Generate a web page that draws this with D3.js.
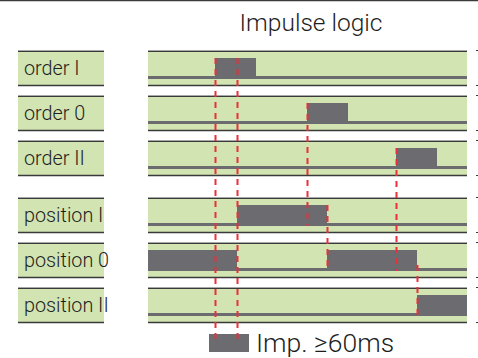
<!DOCTYPE html>
<html><head><meta charset="utf-8">
<script src="https://cdn.jsdelivr.net/npm/d3@7"></script>
<style>
html,body{margin:0;padding:0;background:#fff;}
svg{display:block;}
text{font-family:Roboto,"Liberation Sans",sans-serif;font-weight:300;fill:#1e1e1e;}
</style></head>
<body>
<script>
// ---- data ----
const title = "Impulse logic";
const signals = ["order I", "order 0", "order II", "position I", "position 0", "position II"];
const groups  = ["order", "order", "order", "position", "position", "position"];
// high-level intervals per signal (time units)
const highIntervals = [
  [[6.7, 10.8]],
  [[15.9, 20.0]],
  [[24.8, 28.9]],
  [[8.9, 17.9]],
  [[0, 8.9], [17.9, 26.9]],
  [[26.9, 32]]
];
// dashed marker lines: time, from signal (level), to signal (level) ; "legend" = down to legend
const markerTimes  = [6.7, 8.9, 15.9, 17.9, 24.8, 26.9];
const markerFrom   = ["order I:high", "order I:high", "order 0:high", "position I:high", "order II:high", "position 0:mid"];
const markerTo     = ["legend", "legend", "position I:low", "position 0:low", "position 0:low", "position II:low"];
const timeDomain = [0, 32];
const legendLabel = "Imp. \u226560ms";

// ---- layout ----
const W = 478, H = 358;
const svg = d3.select("body").append("svg").attr("width", W).attr("height", H);

const x = d3.scaleLinear().domain(timeDomain).range([148, 468]);
const rowH = 36, rowStep = 45, groupGap = 12, top0 = 50;
const rowTop = i => top0 + i * rowStep + (groups[i] === "position" ? groupGap : 0);
const levelY = {high: 8, mid: 23, low: 26, lowEnd: 29};

const green = "#d1e4b2", grey = "#6b6b70", dark = "#3a3a3a", red = "#ec2f3a";

// top rule
svg.append("line").attr("x1", 0).attr("x2", W).attr("y1", 0.5).attr("y2", 0.5)
  .attr("stroke", dark).attr("stroke-width", 1.5);

// title
svg.append("text").attr("x", 311).attr("y", 31).attr("text-anchor", "middle")
  .attr("font-size", 24.5).text(title);

const rows = svg.selectAll("g.row").data(signals).join("g").attr("class", "row")
  .attr("transform", (d, i) => `translate(0,${rowTop(i)})`);

function panel(g, x0, x1) {
  g.append("rect").attr("x", x0).attr("y", 0).attr("width", x1 - x0).attr("height", rowH).attr("fill", green);
  g.append("line").attr("x1", x0).attr("x2", x1).attr("y1", 0.5).attr("y2", 0.5).attr("stroke", "#a8a8a8").attr("stroke-width", 1);
  g.append("line").attr("x1", x0).attr("x2", x1).attr("y1", 1.5).attr("y2", 1.5).attr("stroke", dark).attr("stroke-width", 1);
  g.append("line").attr("x1", x0).attr("x2", x1).attr("y1", rowH - 0.5).attr("y2", rowH - 0.5).attr("stroke", dark).attr("stroke-width", 1.5);
}

rows.each(function(d, i) {
  const g = d3.select(this);
  // label box
  panel(g, 18, 104);
  // timeline panel
  panel(g, x.range()[0], x.range()[1] - 1);
  // low line
  g.append("rect").attr("x", x(timeDomain[0])).attr("y", levelY.low)
    .attr("width", x(timeDomain[1]) - 1 - x(timeDomain[0])).attr("height", levelY.lowEnd - levelY.low).attr("fill", grey);
  // high blocks
  g.selectAll("rect.hi").data(highIntervals[i]).join("rect").attr("class", "hi")
    .attr("x", iv => x(iv[0])).attr("width", iv => Math.min(x(iv[1]), x.range()[1] - 1) - x(iv[0]))
    .attr("y", levelY.high).attr("height", levelY.lowEnd - levelY.high).attr("fill", grey);
  // label
  g.append("text").attr("x", 24).attr("y", 25).attr("font-size", 19.8).text(d);
  // right edge ticks
  g.append("line").attr("x1", 476).attr("x2", 478).attr("y1", 0.5).attr("y2", 0.5).attr("stroke", dark);
  g.append("line").attr("x1", 476).attr("x2", 478).attr("y1", rowH - 0.5).attr("y2", rowH - 0.5).attr("stroke", dark);
});

// legend
const legY = 334;
svg.append("rect").attr("x", 209).attr("y", legY).attr("width", 40).attr("height", 18).attr("fill", grey);
svg.append("text").attr("x", 256).attr("y", 352).attr("font-size", 26.5).text(legendLabel);

// dashed markers
function resolveY(s) {
  if (s === "legend") return 341;
  const [name, lvl] = s.split(":");
  const i = signals.indexOf(name);
  return rowTop(i) + (lvl === "high" ? levelY.high : lvl === "mid" ? levelY.mid : levelY.lowEnd);
}
svg.selectAll("line.mk").data(markerTimes).join("line").attr("class", "mk")
  .attr("x1", t => Math.round(x(t)) + 0.5).attr("x2", t => Math.round(x(t)) + 0.5)
  .attr("y1", (t, k) => resolveY(markerFrom[k])).attr("y2", (t, k) => resolveY(markerTo[k]))
  .attr("stroke", red).attr("stroke-width", 2).attr("stroke-dasharray", "6,5");
</script>
</body></html>
